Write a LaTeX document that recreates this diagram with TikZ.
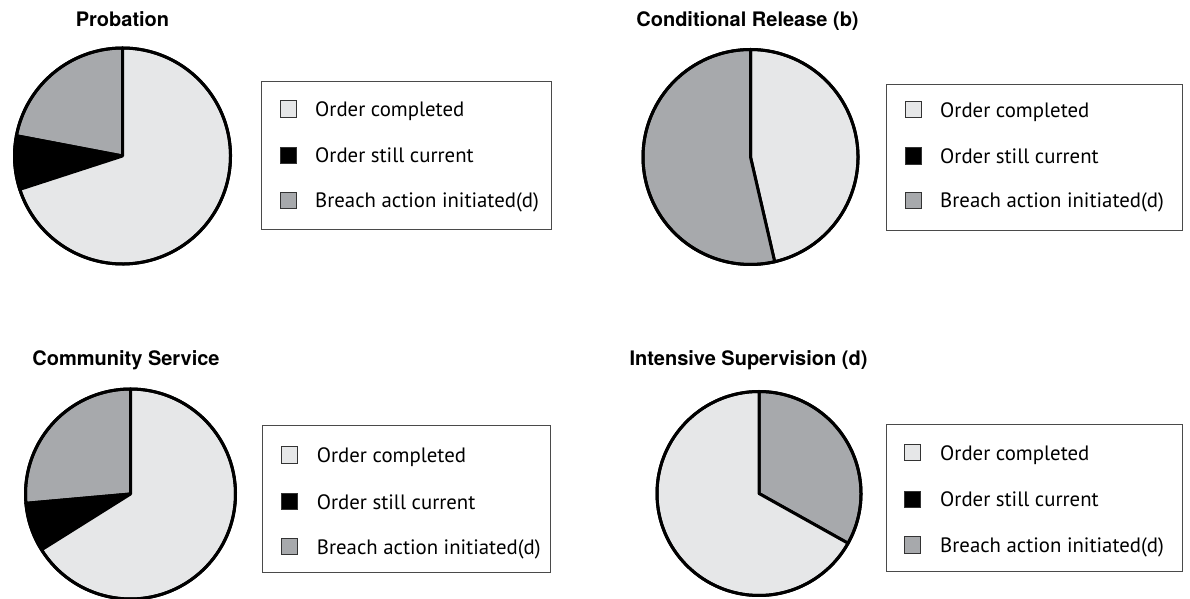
\documentclass[tikz,border=0pt]{standalone}
\usepackage{fontspec}
\setmainfont{TeX Gyre Heros}
\newfontfamily\legfont{PT Sans}
\definecolor{lightg}{HTML}{E6E7E8}
\definecolor{midg}{HTML}{A7A9AC}
\definecolor{boxline}{HTML}{4A4A4A}
\newcommand\pieslice[6]{\filldraw[slice,fill=#6] (#1,#2) -- ++(#4:#3) arc[start angle=#4,end angle=#5,radius=#3] -- cycle;}
\newcommand\pierim[3]{\draw[slice] (#1,#2) circle[radius=#3];}
\newcommand\legrow[6]{%
  \filldraw[legsq,fill=#3] (#1,#2-8.25) rectangle ++(16.5,16.5);
  \node[legtext] (#6) at (#4,#2-7.4) {#5};}
\begin{document}
\begin{tikzpicture}[x=1pt,y=1pt,
  slice/.style={draw=black,line width=3pt,line join=round},
  legsq/.style={draw=black!80,line width=0.9pt},
  legbox/.style={draw=boxline,line width=1pt},
  legtext/.style={anchor=base west,inner sep=0pt,font=\legfont\fontsize{20.8}{24}\selectfont},
  title/.style={anchor=base,inner sep=0pt,font=\bfseries\fontsize{20}{23}\selectfont}]
\useasboundingbox (0,0) rectangle (1190,599);
% ---------- Probation ----------
\node[title] (t1) at (122.5,572.5) {Probation};
\pieslice{122.5}{443}{108}{90}{169.2}{midg}
\pieslice{122.5}{443}{108}{169.2}{198}{black}
\pieslice{122.5}{443}{108}{198}{450}{lightg}
\pierim{122.5}{443}{108}
\draw[legbox] (261,517) rectangle (551,369);
\legrow{280}{490}{lightg}{315}{Order completed}{l1a}
\legrow{280}{443.5}{black}{315}{Order still current}{l1b}
\legrow{280}{398.7}{midg}{315}{Breach action initiated(d)}{l1c}
% ---------- Conditional Release ----------
\node[title] (t2) at (747.5,572.5) {Conditional Release (b)};
\pieslice{750.5}{442}{107.5}{-77}{90}{lightg}
\pieslice{750.5}{442}{107.5}{90}{283}{midg}
\pierim{750.5}{442}{107.5}
\draw[legbox] (886,514.5) rectangle (1182,368);
\legrow{905}{489.3}{lightg}{940}{Order completed}{l2a}
\legrow{905}{443}{black}{940}{Order still current}{l2b}
\legrow{905}{398.7}{midg}{940}{Breach action initiated(d)}{l2c}
% ---------- Community Service ----------
\node[title] (t3) at (126,233.3) {Community Service};
\pieslice{130.5}{105}{105}{90}{185.1}{midg}
\pieslice{130.5}{105}{105}{185.1}{212.1}{black}
\pieslice{130.5}{105}{105}{212.1}{450}{lightg}
\pierim{130.5}{105}{105}
\draw[legbox] (262,173.5) rectangle (550,26);
\legrow{281}{144}{lightg}{316.7}{Order completed}{l3a}
\legrow{281}{97.3}{black}{316.7}{Order still current}{l3b}
\legrow{281}{52.3}{midg}{316.7}{Breach action initiated(d)}{l3c}
% ---------- Intensive Supervision ----------
\node[title] (t4) at (748.5,233.3) {Intensive Supervision (d)};
\pieslice{759}{105.5}{102}{-29.2}{90}{midg}
\pieslice{759}{105.5}{102}{90}{330.8}{lightg}
\pierim{759}{105.5}{102}
\draw[legbox] (886,174.5) rectangle (1182,27);
\legrow{904}{146.3}{lightg}{940}{Order completed}{l4a}
\legrow{904}{99.7}{black}{940}{Order still current}{l4b}
\legrow{904}{54}{midg}{940}{Breach action initiated(d)}{l4c}
\end{tikzpicture}
\end{document}
